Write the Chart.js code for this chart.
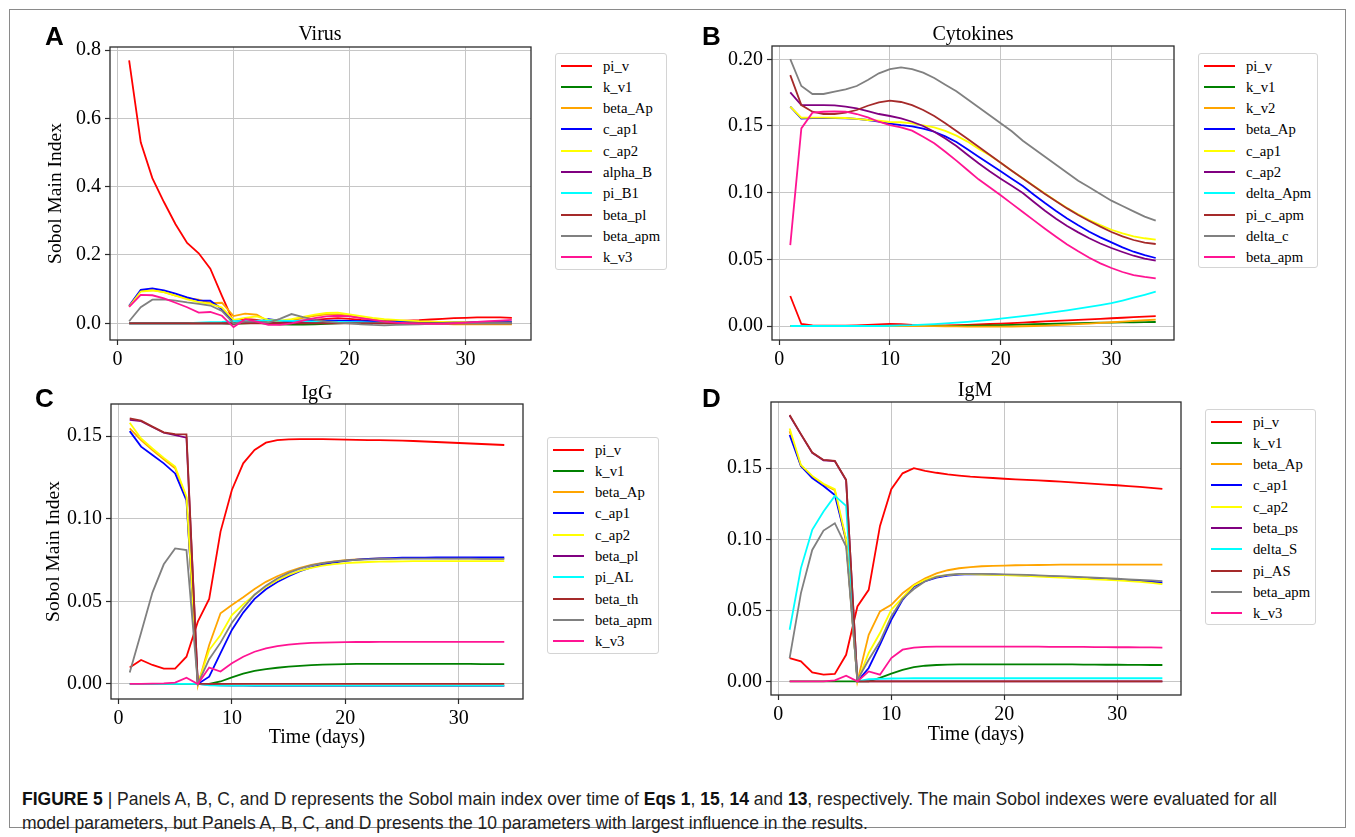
<!DOCTYPE html>
<html><head><meta charset="utf-8">
<script src="https://cdn.jsdelivr.net/npm/chart.js@4.4.1/dist/chart.umd.min.js"></script>
<style>
html,body{margin:0;padding:0;background:#fff;}
body{width:1355px;height:837px;position:relative;overflow:hidden;font-family:"Liberation Serif","Times New Roman",serif;}
#frame{position:absolute;left:9px;top:9px;width:1337px;height:819px;border:1px solid #8a8a8a;box-sizing:border-box;}
canvas{position:absolute;}
.ttl{position:absolute;font-family:"Liberation Serif","Times New Roman",serif;font-size:20px;line-height:20px;transform:translate(-50%,-50%);white-space:nowrap;color:#000;}
.let{position:absolute;font-family:"Liberation Sans",Arial,sans-serif;font-weight:bold;font-size:26px;line-height:26px;color:#000;}
.leg{position:absolute;border:1px solid #d4d4d4;border-radius:3px;background:#fff;box-sizing:border-box;}
.leg .ln{position:absolute;left:5px;width:31px;height:2px;}
.leg .tx{position:absolute;left:47px;font-family:"Liberation Serif","Times New Roman",serif;font-size:14.7px;line-height:16px;white-space:nowrap;color:#000;transform:translateY(-50%);}
#cap{position:absolute;left:22px;top:787px;font-family:"Liberation Sans",Arial,sans-serif;font-size:19px;line-height:24px;color:#222;white-space:nowrap;transform-origin:0 0;}
#cap b{font-weight:bold;color:#111;}
</style></head>
<body>
<div id="frame"></div>
<canvas id="cA"></canvas><canvas id="cB"></canvas><canvas id="cC"></canvas><canvas id="cD"></canvas>
<div class="let" style="left:45px;top:23px;">A</div>
<div class="let" style="left:702px;top:23px;">B</div>
<div class="let" style="left:35px;top:385px;">C</div>
<div class="let" style="left:702px;top:385px;">D</div>
<div class="ttl" style="left:320px;top:33px;">Virus</div>
<div class="ttl" style="left:973px;top:33px;">Cytokines</div>
<div class="ttl" style="left:317px;top:392px;">IgG</div>
<div class="ttl" style="left:975px;top:389px;">IgM</div>
<div id="legA" class="leg"></div><div id="legB" class="leg"></div><div id="legC" class="leg"></div><div id="legD" class="leg"></div>
<div id="cap"><span id="capL1"><b>FIGURE 5</b> | Panels A, B, C, and D represents the Sobol main index over time of <b>Eqs 1</b>, <b>15</b>, <b>14</b> and <b>13</b>, respectively. The main Sobol indexes were evaluated for all</span><br>model parameters, but Panels A, B, C, and D presents the 10 parameters with largest influence in the results.</div>
<script>
// ---------------- DATA ----------------
const days = [1,2,3,4,5,6,7,8,9,10,11,12,13,14,15,16,17,18,19,20,21,22,23,24,25,26,27,28,29,30,31,32,33,34];
const xTicks = [0,10,20,30];
const xTickLabels = ['0','10','20','30'];

// Panel A: Virus
const A_names = ['pi_v','k_v1','beta_Ap','c_ap1','c_ap2','alpha_B','pi_B1','beta_pl','beta_apm','k_v3'];
const A_pi_v = [0.770,0.530,0.425,0.355,0.290,0.235,0.205,0.160,0.080,0.004,0.013,0.010,0.004,0.003,0.006,0.008,0.010,0.013,0.015,0.013,0.010,0.008,0.007,0.007,0.008,0.009,0.011,0.013,0.015,0.016,0.017,0.017,0.017,0.016];
const A_k_v1 = [0,0,0,0,0,0,0,0,0,-0.002,0,0.001,-0.001,-0.003,-0.004,-0.004,-0.003,-0.002,0,0.001,0.001,0.002,0.002,0.002,0.002,0.002,0.002,0.002,0.002,0.002,0.002,0.002,0.002,0.002];
const A_beta_Ap = [0.050,0.095,0.097,0.091,0.081,0.073,0.069,0.059,0.060,0.021,0.028,0.025,0.006,0.004,0.008,0.016,0.022,0.026,0.026,0.022,0.016,0.011,0.007,0.004,0.002,0.001,0,-0.002,-0.003,-0.003,-0.003,-0.003,-0.003,-0.003];
const A_c_ap1 = [0.051,0.098,0.102,0.096,0.087,0.076,0.067,0.066,0.041,0.005,0.006,0.003,0.012,0.008,0.006,0.008,0.008,0.008,0.008,0.007,0.006,0.006,0.005,0.005,0.005,0.005,0.004,0.004,0.004,0.004,0.004,0.004,0.004,0.004];
const A_c_ap2 = [0.049,0.093,0.096,0.091,0.081,0.070,0.062,0.057,0.046,0.010,0.016,0.020,0.010,0.008,0.012,0.019,0.025,0.030,0.031,0.026,0.021,0.016,0.012,0.010,0.008,0.006,0.005,0.004,0.003,0.003,0.002,0.002,0.002,0.002];
const A_alpha_B = [0,0,0,0,0,0,0,0,0,0,0.001,0.001,0.001,0.001,0.001,0.001,0.001,0.001,0.001,0.001,0.001,0.001,0.001,0.001,0.001,0.001,0.001,0.001,0.001,0.001,0.001,0.001,0.001,0.001];
const A_pi_B1 = [0,0,0,0,0,0,0.002,0.003,0.004,0.006,0.007,0.008,0.008,0.008,0.007,0.006,0.005,0.005,0.004,0.003,0.003,0.002,0.002,0.002,0.001,0.001,0.001,0.001,0.001,0.001,0.001,0.001,0.001,0.001];
const A_beta_pl = [0,0,0,0,0,0,0,0,0,0,0,0,0,0,0,0,0,0,0,0,0,0,0,0,0,0,0,0,0,0,0,0,0,0];
const A_beta_apm = [0.006,0.047,0.069,0.070,0.066,0.061,0.057,0.052,0.036,0.000,0.005,0.005,0.002,0.013,0.027,0.018,0.010,0.005,0.002,0.000,-0.003,-0.005,-0.006,-0.005,-0.004,-0.003,-0.002,-0.001,0,0,0,0,0,0];
const A_k_v3 = [0.048,0.083,0.082,0.073,0.060,0.047,0.031,0.033,0.022,-0.011,0.012,0.005,-0.005,-0.005,0.000,0.008,0.015,0.020,0.022,0.020,0.015,0.010,0.005,0.002,0.000,-0.001,-0.002,-0.002,0.000,0.002,0.004,0.006,0.008,0.010];
const A_yTicks = [0,0.2,0.4,0.6,0.8];
const A_yTickLabels = ['0.0','0.2','0.4','0.6','0.8'];

// Panel B: Cytokines
const B_names = ['pi_v','k_v1','k_v2','beta_Ap','c_ap1','c_ap2','delta_Apm','pi_c_apm','delta_c','beta_apm'];
const B_pi_v = [0.0225,0.0015,0.0005,0.0002,0.0002,0.0003,0.0005,0.0008,0.0012,0.0015,0.0013,0.0008,0.0005,0.0004,0.0005,0.0007,0.0009,0.0012,0.0015,0.0018,0.0022,0.0026,0.0030,0.0034,0.0038,0.0042,0.0046,0.0050,0.0054,0.0058,0.0062,0.0066,0.0070,0.0074];
const B_k_v1 = [0,0,0,0,0,0,0,0,0,0,0,0,0,0,0,0.0001,0.0002,0.0003,0.0005,0.0007,0.0009,0.0011,0.0013,0.0015,0.0017,0.0019,0.0021,0.0023,0.0025,0.0026,0.0027,0.0028,0.0029,0.0030];
const B_k_v2 = [0,0,0,0,0,0,0,0,0,0,0,0,0,-0.0001,-0.0002,-0.0003,-0.0004,-0.0005,-0.0005,-0.0005,-0.0004,-0.0002,0,0.0003,0.0006,0.0010,0.0014,0.0018,0.0023,0.0028,0.0033,0.0038,0.0043,0.0048];
const B_beta_Ap = [0.1645,0.1556,0.1560,0.1560,0.1560,0.1558,0.1553,0.1545,0.1532,0.1518,0.1507,0.1498,0.1480,0.1457,0.1422,0.1380,0.1325,0.1270,0.1215,0.1160,0.1105,0.1050,0.0985,0.0922,0.0862,0.0807,0.0755,0.0707,0.0665,0.0627,0.0590,0.0557,0.0532,0.0510];
const B_c_ap1 = [0.1645,0.1562,0.1563,0.1563,0.1562,0.1560,0.1553,0.1545,0.1540,0.1530,0.1528,0.1520,0.1505,0.1490,0.1463,0.1428,0.1383,0.1330,0.1280,0.1225,0.1165,0.1108,0.1050,0.0993,0.0938,0.0885,0.0838,0.0795,0.0757,0.0722,0.0695,0.0672,0.0658,0.0648];
const B_c_ap2 = [0.1752,0.1657,0.1657,0.1657,0.1655,0.1645,0.1632,0.1612,0.1590,0.1575,0.1557,0.1532,0.1500,0.1457,0.1407,0.1350,0.1285,0.1220,0.1160,0.1105,0.1052,0.0998,0.0930,0.0865,0.0805,0.0750,0.0702,0.0658,0.0619,0.0585,0.0555,0.0527,0.0505,0.0490];
const B_delta_Apm = [0,0,0,0,0,0,0,0,0,0.0002,0.0004,0.0006,0.0010,0.0014,0.0019,0.0025,0.0031,0.0038,0.0046,0.0055,0.0064,0.0074,0.0084,0.0095,0.0106,0.0118,0.0130,0.0143,0.0157,0.0171,0.0191,0.0212,0.0234,0.0257];
const B_pi_c_apm = [0.1882,0.1657,0.1607,0.1590,0.1590,0.1600,0.1620,0.1652,0.1677,0.1690,0.1680,0.1657,0.1620,0.1575,0.1520,0.1462,0.1405,0.1345,0.1285,0.1225,0.1165,0.1107,0.1048,0.0990,0.0935,0.0882,0.0833,0.0788,0.0745,0.0705,0.0672,0.0645,0.0625,0.0615];
const B_delta_c = [0.2002,0.1800,0.1740,0.1740,0.1757,0.1775,0.1800,0.1845,0.1895,0.1927,0.1940,0.1927,0.1900,0.1860,0.1810,0.1760,0.1700,0.1640,0.1580,0.1520,0.1460,0.1390,0.1330,0.1270,0.1210,0.1150,0.1090,0.1040,0.0990,0.0940,0.0900,0.0860,0.0820,0.0790];
const B_beta_apm = [0.0607,0.1482,0.1600,0.1607,0.1610,0.1607,0.1590,0.1565,0.1532,0.1507,0.1490,0.1465,0.1420,0.1370,0.1307,0.1240,0.1170,0.1100,0.1040,0.0980,0.0918,0.0855,0.0792,0.0730,0.0670,0.0612,0.0560,0.0512,0.0470,0.0435,0.0405,0.0382,0.0368,0.0357];
const B_yTicks = [0,0.05,0.10,0.15,0.20];
const B_yTickLabels = ['0.00','0.05','0.10','0.15','0.20'];

// Panel C: IgG
const C_names = ['pi_v','k_v1','beta_Ap','c_ap1','c_ap2','beta_pl','pi_AL','beta_th','beta_apm','k_v3'];
const C_pi_v = [0.0099,0.0145,0.0115,0.0093,0.0093,0.0165,0.0377,0.0514,0.0922,0.1174,0.1335,0.1416,0.1460,0.1475,0.1480,0.1482,0.1482,0.1481,0.1480,0.1478,0.1477,0.1476,0.1475,0.1474,0.1472,0.1470,0.1467,0.1464,0.1461,0.1458,0.1455,0.1452,0.1449,0.1446];
const C_k_v1 = [0,0,0,0,0,0,0,0,0.0015,0.0040,0.0062,0.0079,0.0090,0.0098,0.0105,0.0110,0.0114,0.0117,0.0119,0.0120,0.0121,0.0122,0.0122,0.0122,0.0122,0.0122,0.0122,0.0122,0.0121,0.0121,0.0121,0.0120,0.0120,0.0120];
const C_beta_Ap = [0.1547,0.1476,0.1415,0.1360,0.1305,0.1125,-0.0010,0.0236,0.0428,0.0478,0.0525,0.0575,0.0618,0.0652,0.0680,0.0703,0.0720,0.0733,0.0742,0.0749,0.0754,0.0757,0.0759,0.0760,0.0761,0.0761,0.0761,0.0761,0.0760,0.0760,0.0760,0.0759,0.0759,0.0758];
const C_c_ap1 = [0.1530,0.1436,0.1385,0.1335,0.1274,0.1110,0,0.0044,0.0186,0.0327,0.0432,0.0515,0.0573,0.0617,0.0652,0.0682,0.0705,0.0722,0.0735,0.0745,0.0752,0.0757,0.0760,0.0762,0.0764,0.0765,0.0765,0.0766,0.0766,0.0766,0.0766,0.0766,0.0766,0.0766];
const C_c_ap2 = [0.1580,0.1485,0.1425,0.1368,0.1315,0.1133,0,0.0205,0.0296,0.0417,0.0482,0.0540,0.0588,0.0628,0.0660,0.0685,0.0703,0.0716,0.0725,0.0731,0.0735,0.0738,0.0740,0.0741,0.0742,0.0743,0.0743,0.0743,0.0743,0.0743,0.0743,0.0743,0.0743,0.0743];
const C_beta_pl = [0.1598,0.1590,0.1555,0.1520,0.1505,0.1490,0,-0.0005,-0.0008,-0.0010,-0.0010,-0.0011,-0.0011,-0.0011,-0.0012,-0.0012,-0.0012,-0.0012,-0.0012,-0.0012,-0.0012,-0.0012,-0.0012,-0.0012,-0.0012,-0.0012,-0.0012,-0.0012,-0.0012,-0.0012,-0.0012,-0.0012,-0.0012,-0.0012];
const C_pi_AL = [0,0,0,0,0,0,0,-0.0008,-0.0010,-0.0010,-0.0010,-0.0010,-0.0010,-0.0010,-0.0010,-0.0010,-0.0010,-0.0010,-0.0010,-0.0010,-0.0010,-0.0010,-0.0010,-0.0010,-0.0010,-0.0010,-0.0010,-0.0010,-0.0010,-0.0010,-0.0010,-0.0010,-0.0010,-0.0010];
const C_beta_th = [0.1607,0.1593,0.1557,0.1522,0.1512,0.1510,0,0,0,0,0,0,0,0,0,0,0,0,0,0,0,0,0,0,0,0,0,0,0,0,0,0,0,0];
const C_beta_apm = [0.0069,0.0310,0.0553,0.0724,0.0820,0.0810,0,0.0150,0.0250,0.0370,0.0460,0.0540,0.0595,0.0638,0.0672,0.0698,0.0717,0.0731,0.0740,0.0747,0.0751,0.0754,0.0756,0.0757,0.0758,0.0758,0.0758,0.0758,0.0758,0.0758,0.0758,0.0757,0.0757,0.0757];
const C_k_v3 = [0,0,0.0002,0.0004,0.0008,0.0038,0,0.0099,0.0075,0.0125,0.0165,0.0195,0.0215,0.0229,0.0238,0.0244,0.0248,0.0250,0.0252,0.0253,0.0254,0.0254,0.0255,0.0255,0.0255,0.0255,0.0255,0.0255,0.0255,0.0255,0.0255,0.0255,0.0255,0.0255];
const C_yTicks = [0,0.05,0.10,0.15];
const C_yTickLabels = ['0.00','0.05','0.10','0.15'];

// Panel D: IgM
const D_names = ['pi_v','k_v1','beta_Ap','c_ap1','c_ap2','beta_ps','delta_S','pi_AS','beta_apm','k_v3'];
const D_pi_v = [0.0164,0.0141,0.0063,0.0047,0.0052,0.0187,0.0527,0.0644,0.1094,0.1352,0.1464,0.1500,0.1482,0.1468,0.1456,0.1448,0.1441,0.1436,0.1431,0.1426,0.1422,0.1418,0.1414,0.1410,0.1405,0.1400,0.1395,0.1390,0.1385,0.1380,0.1374,0.1368,0.1362,0.1354];
const D_k_v1 = [0,0,0,0,0,0,0,0,0.0025,0.0055,0.0080,0.0100,0.0110,0.0115,0.0118,0.0120,0.0120,0.0120,0.0120,0.0120,0.0120,0.0120,0.0120,0.0120,0.0119,0.0119,0.0118,0.0118,0.0117,0.0117,0.0116,0.0116,0.0115,0.0115];
const D_beta_Ap = [0.1760,0.1515,0.1440,0.1385,0.1345,0.0980,0,0.0328,0.0492,0.0539,0.0620,0.0680,0.0725,0.0760,0.0782,0.0796,0.0804,0.0810,0.0813,0.0815,0.0817,0.0818,0.0819,0.0820,0.0821,0.0821,0.0822,0.0822,0.0822,0.0822,0.0822,0.0822,0.0822,0.0822];
const D_c_ap1 = [0.1734,0.1516,0.1430,0.1375,0.1312,0.0996,0,0.0094,0.0258,0.0433,0.0574,0.0668,0.0705,0.0730,0.0745,0.0752,0.0754,0.0753,0.0752,0.0750,0.0748,0.0745,0.0742,0.0739,0.0735,0.0732,0.0728,0.0724,0.0720,0.0716,0.0712,0.0707,0.0701,0.0695];
const D_c_ap2 = [0.1780,0.1523,0.1446,0.1390,0.1352,0.1000,0,0.0200,0.0340,0.0504,0.0590,0.0675,0.0715,0.0738,0.0750,0.0754,0.0754,0.0752,0.0750,0.0748,0.0745,0.0742,0.0738,0.0734,0.0730,0.0726,0.0722,0.0718,0.0714,0.0710,0.0705,0.0700,0.0693,0.0685];
const D_beta_ps = [0.1870,0.1738,0.1608,0.1556,0.1550,0.1415,0,0,0,0,0,0,0,0,0,0,0,0,0,0,0,0,0,0,0,0,0,0,0,0,0,0,0,0];
const D_delta_S = [0.0363,0.0797,0.1066,0.1195,0.1305,0.1235,0,0.0015,0.0018,0.0020,0.0021,0.0022,0.0022,0.0022,0.0022,0.0022,0.0022,0.0022,0.0022,0.0022,0.0022,0.0022,0.0022,0.0022,0.0022,0.0022,0.0022,0.0022,0.0022,0.0022,0.0022,0.0022,0.0022,0.0022];
const D_pi_AS = [0.1874,0.1740,0.1610,0.1558,0.1551,0.1418,0,0,0,0,0,0,0,0,0,0,0,0,0,0,0,0,0,0,0,0,0,0,0,0,0,0,0,0];
const D_beta_apm = [0.0164,0.0621,0.0925,0.1061,0.1113,0.0949,0.0010,0.0152,0.0280,0.0457,0.0580,0.0650,0.0705,0.0735,0.0750,0.0756,0.0757,0.0756,0.0755,0.0753,0.0751,0.0749,0.0746,0.0743,0.0740,0.0737,0.0733,0.0730,0.0726,0.0722,0.0718,0.0714,0.0710,0.0705];
const D_k_v3 = [0,0,0,0,0.0007,0.0040,0,0.0070,0.0047,0.0164,0.0223,0.0238,0.0242,0.0244,0.0245,0.0245,0.0245,0.0245,0.0245,0.0245,0.0245,0.0244,0.0244,0.0243,0.0243,0.0242,0.0242,0.0241,0.0241,0.0240,0.0240,0.0239,0.0239,0.0238];
const D_yTicks = [0,0.05,0.10,0.15];
const D_yTickLabels = ['0.00','0.05','0.10','0.15'];

// ---------------- STYLE / LAYOUT ----------------
const seriesColors = ['#ff0000','#008000','#ffa500','#0000ff','#ffff00','#800080','#00ffff','#a52a2a','#808080','#ff1493'];
const SERIF = '"Liberation Serif","Times New Roman",serif';

const panels = [
  {canvas:'cA', legend:'legA', names:A_names, values:[A_pi_v,A_k_v1,A_beta_Ap,A_c_ap1,A_c_ap2,A_alpha_B,A_pi_B1,A_beta_pl,A_beta_apm,A_k_v3],
   yTicks:A_yTicks, yLabels:A_yTickLabels, ymin:-0.049, ymax:0.809, yTitle:'Sobol Main Index', xTitle:'',
   area:{l:110,t:47,r:531,b:340}, yW:66, xH:40, leg:{l:555,t:53,w:112,h:217}},
  {canvas:'cB', legend:'legB', names:B_names, values:[B_pi_v,B_k_v1,B_k_v2,B_beta_Ap,B_c_ap1,B_c_ap2,B_delta_Apm,B_pi_c_apm,B_delta_c,B_beta_apm],
   yTicks:B_yTicks, yLabels:B_yTickLabels, ymin:-0.0105, ymax:0.2100, yTitle:'', xTitle:'',
   area:{l:772,t:46,r:1174,b:340}, yW:62, xH:40, leg:{l:1198,t:53,w:120,h:215}},
  {canvas:'cC', legend:'legC', names:C_names, values:[C_pi_v,C_k_v1,C_beta_Ap,C_c_ap1,C_c_ap2,C_beta_pl,C_pi_AL,C_beta_th,C_beta_apm,C_k_v3],
   yTicks:C_yTicks, yLabels:C_yTickLabels, ymin:-0.0091, ymax:0.1694, yTitle:'Sobol Main Index', xTitle:'Time (days)',
   area:{l:111,t:404,r:523,b:699}, yW:69, xH:51, leg:{l:547,t:437,w:112,h:217}},
  {canvas:'cD', legend:'legD', names:D_names, values:[D_pi_v,D_k_v1,D_beta_Ap,D_c_ap1,D_c_ap2,D_beta_ps,D_delta_S,D_pi_AS,D_beta_apm,D_k_v3],
   yTicks:D_yTicks, yLabels:D_yTickLabels, ymin:-0.0096, ymax:0.1966, yTitle:'', xTitle:'Time (days)',
   area:{l:771,t:402,r:1181,b:695}, yW:62, xH:52, leg:{l:1205,t:409,w:111,h:216}}
];

const framePlugin = {
  id:'frame',
  afterDatasetsDraw(chart){
    const {ctx, chartArea:a} = chart;
    ctx.save();
    ctx.strokeStyle = '#2b2b2b';
    ctx.lineWidth = 1.3;
    ctx.strokeRect(a.left, a.top, a.right - a.left, a.bottom - a.top);
    ctx.restore();
  }
};

const PADTOP = 18, PADRIGHT = 6;

panels.forEach(p => {
  const cv = document.getElementById(p.canvas);
  const w = p.yW + (p.area.r - p.area.l) + PADRIGHT;
  const h = PADTOP + (p.area.b - p.area.t) + p.xH;
  cv.width = w; cv.height = h;
  cv.style.width = w + 'px'; cv.style.height = h + 'px';
  cv.style.left = (p.area.l - p.yW) + 'px';
  cv.style.top = (p.area.t - PADTOP) + 'px';

  const datasets = p.names.map((n, i) => ({
    label: n,
    data: days.map((d, j) => ({x: d, y: p.values[i][j]})),
    borderColor: seriesColors[i],
    backgroundColor: seriesColors[i],
    borderWidth: 1.8,
    pointRadius: 0,
    fill: false,
    tension: 0,
    order: p.names.length - i
  }));

  const gridOpts = {color:'#c6c6c6', lineWidth:1, drawTicks:true, tickLength:5, tickColor:'#2b2b2b', tickWidth:1.2};
  new Chart(cv, {
    type: 'line',
    data: {datasets},
    options: {
      responsive: false, animation: false, devicePixelRatio: 1,
      layout: {padding: {top: PADTOP, right: PADRIGHT, left: 0, bottom: 0}},
      plugins: {legend: {display: false}, tooltip: {enabled: false}, title: {display: false}},
      scales: {
        x: {
          type: 'linear', min: -0.65, max: 35.65,
          afterBuildTicks: s => { s.ticks = xTicks.map(v => ({value: v})); },
          afterFit: s => { s.height = p.xH; },
          ticks: {font: {family: SERIF, size: 20}, color: '#000', padding: 3, maxRotation: 0,
                  callback: (v, i) => xTickLabels[i]},
          grid: gridOpts,
          border: {display: false},
          title: {display: !!p.xTitle, text: p.xTitle, font: {family: SERIF, size: 20, lineHeight: 1.2}, color: '#000', padding: 0}
        },
        y: {
          type: 'linear', min: p.ymin, max: p.ymax,
          afterBuildTicks: s => { s.ticks = p.yTicks.map(v => ({value: v})); },
          afterFit: s => { s.width = p.yW; },
          ticks: {font: {family: SERIF, size: 20}, color: '#000', padding: 4,
                  callback: (v, i) => p.yLabels[i]},
          grid: gridOpts,
          border: {display: false},
          title: {display: !!p.yTitle, text: p.yTitle, font: {family: SERIF, size: 19.5, lineHeight: 1.2}, color: '#000', padding: 0}
        }
      }
    },
    plugins: [framePlugin]
  });

  // legend box (HTML), built from the same series names / colours
  const lg = document.getElementById(p.legend);
  lg.style.left = p.leg.l + 'px'; lg.style.top = p.leg.t + 'px';
  lg.style.width = p.leg.w + 'px'; lg.style.height = p.leg.h + 'px';
  p.names.forEach((n, i) => {
    const cy = 11.5 + i * 21.3;
    const ln = document.createElement('div');
    ln.className = 'ln'; ln.style.top = (cy - 1) + 'px'; ln.style.background = seriesColors[i];
    const tx = document.createElement('div');
    tx.className = 'tx'; tx.style.top = cy + 'px'; tx.textContent = n;
    lg.appendChild(ln); lg.appendChild(tx);
  });
});

// condense the caption (narrow typeface look) to the reference line length
(function(){
  const cap = document.getElementById('cap');
  const l1 = document.getElementById('capL1');
  const wdt = l1.getBoundingClientRect().width;
  const target = 1255;
  if (wdt > 0) cap.style.transform = 'scaleX(' + (target / wdt).toFixed(4) + ')';
})();
</script>
</body></html>
